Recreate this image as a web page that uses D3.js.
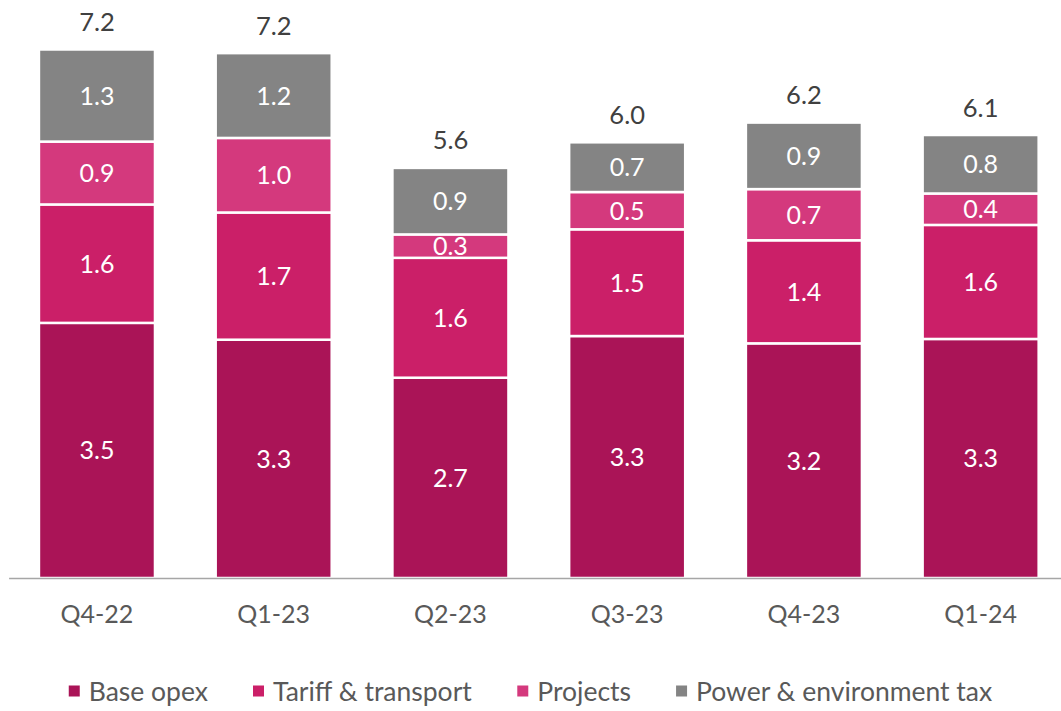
<!DOCTYPE html>
<html>
<head>
<meta charset="utf-8">
<script src="https://cdn.jsdelivr.net/npm/d3@7"></script>
<style>
    html, body { margin: 0; padding: 0; background: #fff; }
    svg { display: block; font-family: Lato, "Open Sans", sans-serif; }
</style>
</head>
<body>
<svg id="chart" width="1061" height="711"></svg>
<script>
// Quarters on the x axis
const quarters = ["Q4-22", "Q1-23", "Q2-23", "Q3-23", "Q4-23", "Q1-24"];

// Series values (stack order bottom to top)
const baseOpex = [3.49, 3.26, 2.74, 3.31, 3.21, 3.27];
const tariffTransport = [1.62, 1.74, 1.64, 1.46, 1.41, 1.56];
const projects = [0.86, 1.02, 0.32, 0.51, 0.70, 0.43];
const powerTax = [1.26, 1.16, 0.91, 0.68, 0.91, 0.80];

const seriesNames = ["Base opex", "Tariff & transport", "Projects", "Power & environment tax"];
const seriesColors = ["#AA1457", "#CB1F68", "#D4397D", "#848484"];

// Build the table d3.stack wants
const keys = ["base", "tariff", "projects", "power"];
const table = quarters.map((q, i) => ({
    quarter: q,
    base: baseOpex[i],
    tariff: tariffTransport[i],
    projects: projects[i],
    power: powerTax[i]
}));

const svg = d3.select("#chart");
const fmt = d3.format(".1f");

const x = d3.scaleBand()
    .domain(quarters)
    .range([8.6, 1069])
    .paddingInner(0.3435)
    .paddingOuter(0.1717);

const y = d3.scaleLinear()
    .domain([0, 8])
    .range([578, 578 - 8 * 73.1]);

const stacked = d3.stack().keys(keys)(table);

// Bars
const layers = svg.append("g")
    .selectAll("g")
    .data(stacked)
    .join("g")
        .attr("fill", (d, i) => seriesColors[i]);

layers.selectAll("rect")
    .data(d => d)
    .join("rect")
        .attr("x", d => x(d.data.quarter))
        .attr("y", d => y(d[1]))
        .attr("width", x.bandwidth())
        .attr("height", d => y(d[0]) - y(d[1]))
        .attr("stroke", "#fff")
        .attr("stroke-width", 2.5);

// Segment labels
layers.selectAll("text")
    .data(d => d)
    .join("text")
        .attr("x", d => x(d.data.quarter) + x.bandwidth() / 2)
        .attr("y", d => (y(d[0]) + y(d[1])) / 2)
        .attr("dy", "0.36em")
        .attr("text-anchor", "middle")
        .attr("fill", "#fff")
        .style("font-size", "25px")
        .text(d => fmt(d[1] - d[0]));

// Axis
const xAxis = svg.append("g")
    .attr("transform", "translate(0,578)")
    .call(d3.axisBottom(x).tickSize(0).tickPadding(0));

xAxis.select(".domain")
    .attr("stroke", "#A6A6A6")
    .attr("stroke-width", 1.5);

xAxis.selectAll("text")
    .attr("y", 45)
    .attr("dy", 0)
    .attr("fill", "#595959")
    .style("font-family", "Lato, 'Open Sans', sans-serif")
    .style("font-size", "25px");

// Totals above bars
const topLayer = stacked[stacked.length - 1];
svg.append("g")
    .selectAll("text")
    .data(topLayer)
    .join("text")
        .attr("x", d => x(d.data.quarter) + x.bandwidth() / 2)
        .attr("y", d => y(d[1]) - 18.5)
        .attr("text-anchor", "middle")
        .attr("fill", "#404040")
        .style("font-size", "25.5px")
        .text(d => fmt(d[1]));

// Legend, centred on the page
const legend = svg.append("g").attr("transform", "translate(0,701)");
const items = legend.selectAll("g")
    .data(seriesNames)
    .join("g");

items.append("rect")
    .attr("y", -15.5)
    .attr("width", 11)
    .attr("height", 11)
    .attr("fill", (d, i) => seriesColors[i]);

items.append("text")
    .attr("x", 20)
    .attr("fill", "#595959")
    .style("font-size", "26.5px")
    .text(d => d);

let pos = 0;
const offsets = [];
items.each(function() {
    offsets.push(pos);
    pos += this.getBBox().width + 45;
});
const legendWidth = pos - 45;
const start = (1061 - legendWidth) / 2;
items.attr("transform", (d, i) => `translate(${start + offsets[i]},0)`);
</script>
</body>
</html>
